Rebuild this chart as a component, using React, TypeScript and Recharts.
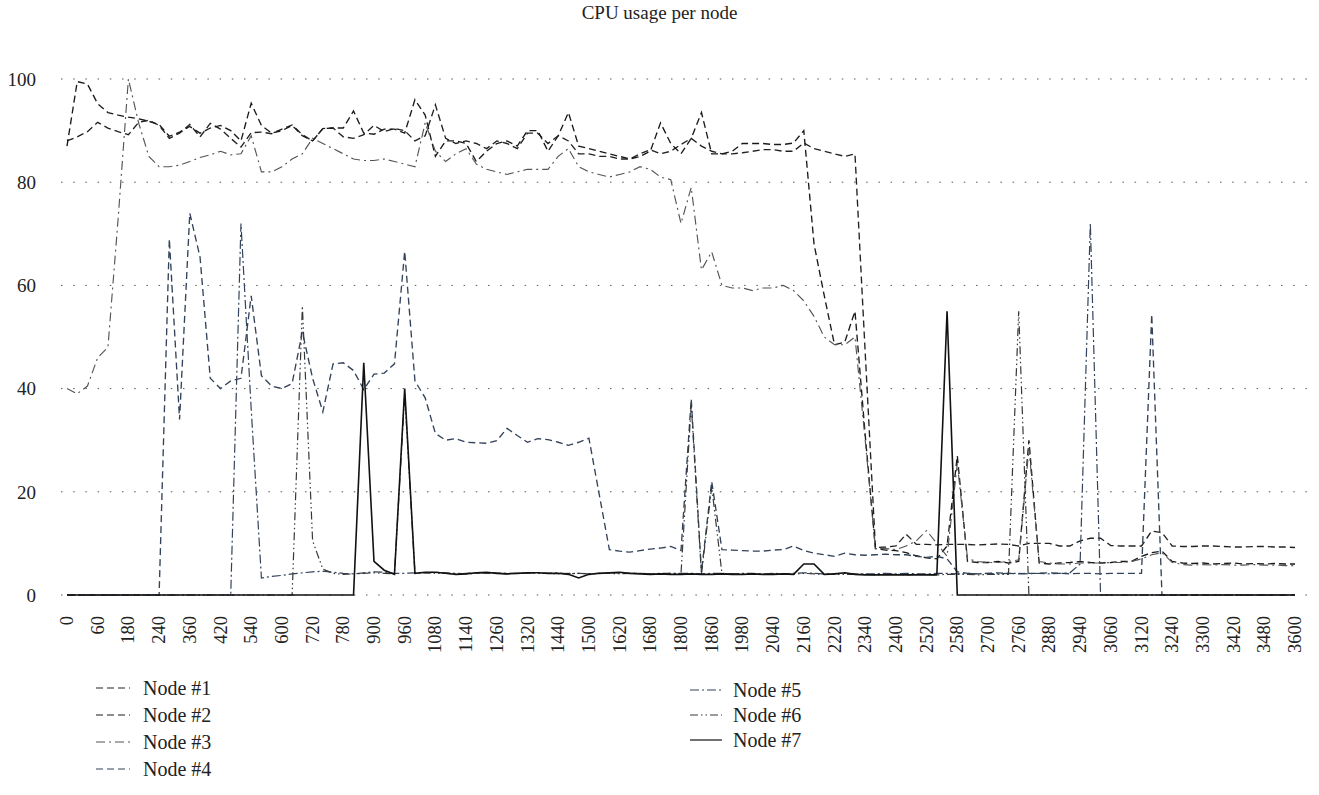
import React from 'react';
import { LineChart, Line, XAxis, YAxis, CartesianGrid } from 'recharts';

// Time categories (s); every third one is labelled on the axis
const categories = [0,20,40,60,100,140,180,200,220,240,280,320,360,380,400,420,460,500,540,560,580,600,640,680,720,740,760,780,820,860,900,920,940,960,1000,1040,1080,1100,1120,1140,1180,1220,1260,1280,1300,1320,1360,1400,1440,1460,1480,1500,1540,1580,1620,1640,1660,1680,1720,1760,1800,1820,1840,1860,1900,1940,1980,2000,2020,2040,2080,2120,2160,2180,2200,2220,2260,2300,2340,2360,2380,2400,2440,2480,2520,2540,2560,2580,2620,2660,2700,2720,2740,2760,2800,2840,2880,2900,2920,2940,2980,3020,3060,3080,3100,3120,3160,3200,3240,3260,3280,3300,3340,3380,3420,3440,3460,3480,3520,3560,3600];

const yTicks = [0, 20, 40, 60, 80, 100];

const node1 = [88,88.8,89.8,91.6,90.5,89.8,89.2,91.6,92,91,88.5,89.5,91.2,88.8,91.4,90.3,88.5,86.8,89.6,89.7,89.4,90.3,91.1,89.2,88,90.4,90.5,88.8,88.5,89.2,91,89.8,90.4,90,88,89,95,88.5,87.5,88,87.5,86.5,88,87.5,86.5,89.5,89.5,87.5,89,88,85.5,85.5,85,85,84.5,84.5,85.5,86.3,85.5,86,87.3,88.5,87,86,85.5,85.5,85.7,86,86.3,86.3,86,86,87.6,86.5,86,85.5,85,85.5,47,9.2,9.3,9.5,11.8,9.8,9.8,9.7,9.8,9.8,9.8,9.7,9.8,9.9,9.8,9.5,10,10,10,9.5,9.5,10.5,11,11,9.6,9.5,9.5,9.5,12.4,12.1,9.5,9.4,9.4,9.5,9.5,9.4,9.3,9.3,9.4,9.4,9.3,9.3,9.2];

const node2 = [87,99.5,99,95.2,93.5,93,92.6,92.3,91.8,91.2,88.9,89.7,90.8,89.5,90.5,91,90,88,95.3,91,89.5,90,91,89,88,90.4,90.5,90.5,93.8,89.5,89.3,90.3,90.3,89.5,96,93,85,88,88,87.5,84,86,87.5,88,87,90,90,86,89,93.5,87,86.5,86,85.5,85,84.5,85,86,91.5,87.5,85.5,88.5,93.5,85.5,85.5,86,87.5,87.5,87.5,87.3,87.3,87.6,90,68,58,48.5,49,55,31,9,8.7,8.6,8.2,7.6,7.2,7,9.5,27,6.5,6.3,6.3,6.5,6.2,6.5,30,6.2,6,6.2,6.3,6.5,6.3,6.2,6.3,6.5,6.5,7.5,8.2,8.5,6.5,6.2,6.1,6.2,6,6.1,6.2,6,6.1,6,6.1,6,6];

const node3 = [40,39,40.5,46,48,73,100,91.5,85,83,83,83.3,84,84.8,85.3,86,85.3,85.5,89,82,82,83,84.5,85.5,88.5,87.5,86.5,85.5,84.5,84.2,84.2,84.5,84,83.5,83,91.5,86,84,85.5,86.5,83.5,82.5,82,81.5,82,82.5,82.5,82.5,85,86.5,83,82,81.5,81,81.5,82,83,82.5,81,80.5,72,79,63,66.5,60,59.5,59.5,59,59.5,59.5,60,59,57,54,50,48.5,48.5,50,30,9,9,8.8,9.5,10.5,12.5,10,7.5,25.5,7,6.5,6.3,6.3,6.5,6.8,28.5,6.5,6.2,6,6,6.2,6.2,6.2,6.3,6.3,6.5,7,7.8,8.2,6.3,5.9,5.8,5.9,5.8,5.9,5.8,5.8,5.9,5.8,5.8,5.7,5.7];

const node4 = [0,0,0,0,0,0,0,0,0,0,69,34,74,65.5,42,40,41.5,42,58,42.5,40.5,40,41,51,42,35.5,44.8,45,43.5,39.8,42.8,43,44.8,66.6,41.5,38.2,31.3,30,30.3,29.6,29.5,29.4,29.9,32.3,30.9,29.6,30.3,30.1,29.6,29,29.6,30.4,19.6,8.8,8.5,8.3,8.6,8.9,9.1,9.4,8.6,38,4.5,22,8.8,8.7,8.6,8.5,8.5,8.7,8.8,9.5,8.6,8.1,7.8,7.5,8.1,7.8,7.7,7.8,7.9,7.8,7.8,7.5,7.3,7.5,7,4.5,4.2,4.1,4.2,4.3,4.2,4.1,4.2,4.2,4.3,4.2,4.1,4.2,4.2,4.1,4.2,4.2,4.2,4.2,54.4,0,0,0,0,0,0,0,0,0,0,0,0,0,0];

const node5 = [0,0,0,0,0,0,0,0,0,0,0,0,0,0,0,0,0,72,36,3.3,3.6,3.8,4.1,4.3,4.5,4.6,4.4,4.2,4.1,4.3,4.5,4.4,4.2,4.2,4.3,4.3,4.4,4.3,4.2,4.1,4.2,4.3,4.3,4.2,4.2,4.3,4.2,4.2,4.3,4.1,4.2,4.1,4.2,4.2,4.3,4.2,4.2,4.1,4.1,4.2,4.2,4.2,4.1,4.2,4.2,4.1,4.2,4.2,4.1,4.2,4.1,4.2,4.3,4.2,4.1,4.1,4.2,4.1,4.1,4.1,4.2,4.1,4.2,4.1,4.1,4.2,4.2,4.1,4.2,4.1,4.2,4.1,4.2,4.2,4.1,4.2,4.1,4.2,4.3,6,72,0,0,0,0,0,0,0,0,0,0,0,0,0,0,0,0,0,0,0,0];

const node6 = [0,0,0,0,0,0,0,0,0,0,0,0,0,0,0,0,0,0,0,0,0,0,0,56,10.5,5,4.2,4,4.1,4.2,4.3,4.2,4.1,39,4.2,4.3,4.2,4.2,4.1,4.2,4.3,4.2,4.2,4.1,4.2,4.2,4.3,4.2,4.1,4.2,4.2,4.1,4.2,4.2,4.1,4.2,4.2,4.1,4.2,4.2,4.1,37,4,21,4.2,4.1,4,4.1,4,4.1,4,4,4.2,4.1,4,4,4,4,4,3.9,4,4,3.9,4,4,3.9,4,4,4,3.9,4,4,4,55,0,0,0,0,0,0,0,0,0,0,0,0,0,0,0,0,0,0,0,0,0,0,0,0,0,0,0];

const node7 = [0,0,0,0,0,0,0,0,0,0,0,0,0,0,0,0,0,0,0,0,0,0,0,0,0,0,0,0,0,45,6.5,4.8,4,40,4.2,4.4,4.4,4.2,4,4.1,4.3,4.4,4.2,4.1,4.2,4.3,4.3,4.2,4.2,4,3.3,4,4.2,4.3,4.4,4.2,4.1,4,4.1,4,4,4.1,4,4,4.1,4,4,4.1,4,4,4.1,4,6,6,4,4.1,4.3,4,3.9,3.9,3.9,3.9,3.9,3.9,3.9,3.9,55,0,0,0,0,0,0,0,0,0,0,0,0,0,0,0,0,0,0,0,0,0,0,0,0,0,0,0,0,0,0,0,0,0,0];

const seriesNames = ['Node #1', 'Node #2', 'Node #3', 'Node #4', 'Node #5', 'Node #6', 'Node #7'];
const seriesValues = [node1, node2, node3, node4, node5, node6, node7];

const seriesStyle = [
  { color: '#222222', dash: '7 4', width: 1.35 },
  { color: '#1a1a1a', dash: '7 4', width: 1.35 },
  { color: '#555555', dash: '9 4 2 4', width: 1.15 },
  { color: '#33435a', dash: '7 4', width: 1.35 },
  { color: '#33435a', dash: '9 3 2 3', width: 1.2 },
  { color: '#383838', dash: '8 3 1.5 3 1.5 3', width: 1.2 },
  { color: '#111111', dash: undefined as string | undefined, width: 1.6 },
];

const data = categories.map((t, i) => {
  const row: Record<string, number> = { t };
  seriesValues.forEach((s, k) => {
    row['n' + (k + 1)] = s[i];
  });
  return row;
});

const FONT = '"Liberation Serif", "Times New Roman", serif';

const XTick = (props: any) => {
  const { x, payload } = props;
  const y = 616;
  return (
    <text
      x={x}
      y={y}
      transform={`rotate(-90 ${x} ${y})`}
      textAnchor="end"
      dominantBaseline="central"
      fontFamily={FONT}
      fontSize={18.5}
      fill="#222"
    >
      {payload.value}
    </text>
  );
};

const legendCol1 = [0, 1, 2, 3];
const legendCol2 = [4, 5, 6];

export default function App() {
  return (
    <div style={{ position: 'absolute', left: 0, top: 0, width: 1319, height: 795, background: '#fff' }}>
      <div
        style={{
          position: 'absolute',
          left: 0,
          top: 2,
          width: 1319,
          textAlign: 'center',
          fontFamily: FONT,
          fontSize: 19,
          color: '#222',
        }}
      >
        CPU usage per node
      </div>
      <div style={{ position: 'absolute', left: 0, top: 0 }}>
        <LineChart width={1319} height={660} data={data} margin={{ top: 79, right: 9, left: 0, bottom: 5 }}>
          <CartesianGrid vertical={false} stroke="#555" strokeDasharray="1.5 10.7" />
          <XAxis
            dataKey="t"
            interval={2}
            height={60}
            axisLine={false}
            tickLine={false}
            padding={{ left: 6, right: 15 }}
            tick={<XTick />}
          />
          <YAxis
            domain={[0, 100]}
            ticks={yTicks}
            width={61}
            axisLine={false}
            tickLine={false}
            tickSize={0}
            tickMargin={25}
            tick={{ fontFamily: FONT, fontSize: 19, fill: '#222' }}
          />
          {seriesNames.map((name, k) => (
            <Line
              key={name}
              type="linear"
              dataKey={'n' + (k + 1)}
              name={name}
              stroke={seriesStyle[k].color}
              strokeWidth={seriesStyle[k].width}
              strokeDasharray={seriesStyle[k].dash}
              dot={false}
              activeDot={false}
              isAnimationActive={false}
            />
          ))}
        </LineChart>
      </div>
      <svg width={1319} height={795} style={{ position: 'absolute', left: 0, top: 0, pointerEvents: 'none' }}>
        {legendCol1.map((k, r) => {
          const y = 688 + r * 27;
          return (
            <g key={k}>
              <line x1={96} x2={130} y1={y} y2={y} stroke={seriesStyle[k].color} strokeWidth={1.2} strokeDasharray={seriesStyle[k].dash} />
              <text x={143} y={y} dominantBaseline="central" fontFamily={FONT} fontSize={20} fill="#222">
                {seriesNames[k]}
              </text>
            </g>
          );
        })}
        {legendCol2.map((k, r) => {
          const y = 690 + r * 25;
          return (
            <g key={k}>
              <line x1={690} x2={722} y1={y} y2={y} stroke={seriesStyle[k].color} strokeWidth={1.2} strokeDasharray={seriesStyle[k].dash} />
              <text x={733} y={y} dominantBaseline="central" fontFamily={FONT} fontSize={20} fill="#222">
                {seriesNames[k]}
              </text>
            </g>
          );
        })}
      </svg>
    </div>
  );
}
